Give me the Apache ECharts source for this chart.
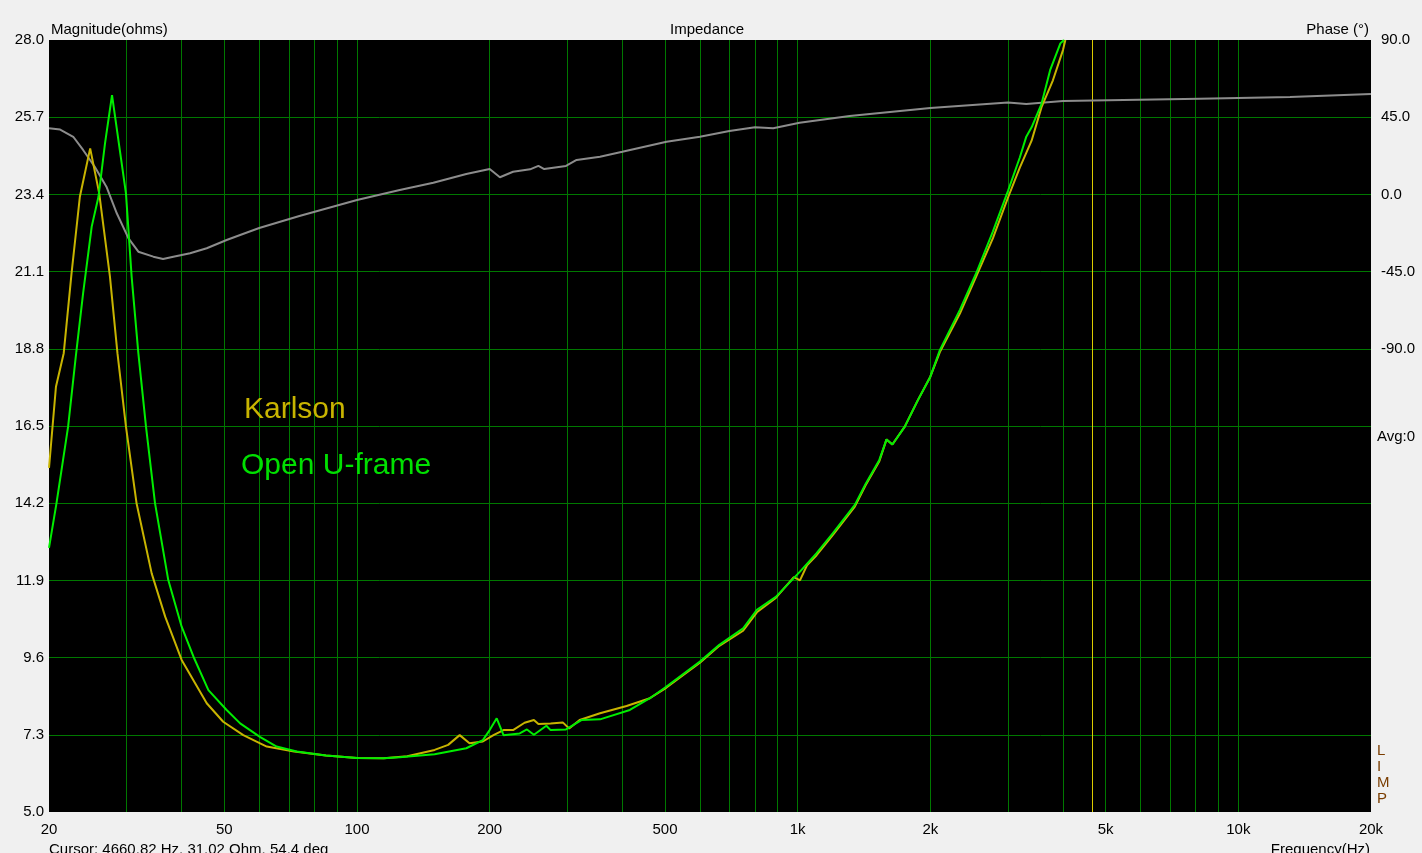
<!DOCTYPE html>
<html>
<head>
<meta charset="utf-8">
<script src="https://cdn.jsdelivr.net/npm/echarts@6/dist/echarts.min.js"></script>
<style>
html,body{margin:0;padding:0;background:#f0f0f0;}
#c{width:1422px;height:853px;}
</style>
</head>
<body>
<div id="c"></div>
<script>
// Open U-frame (green) impedance, Hz -> ohms
const freqOpen = [20,20.8,22.1,23.0,23.9,25.0,25.9,26.8,27.8,29.9,30.8,31.9,33.2,34.8,37.3,40.0,42.7,46.0,50.6,54.3,60.2,65.7,73,85,100,115,125,150,177,193,200,207.5,215,234,243,252,269,275,298,323,356,416,462,503,600,664,752,808,892,1012,1104,1201,1348,1428,1532,1591,1640,1750,1874,2000,2102,2334,2541,2774,3000,3192,3302,3395,3576,3740,3946,4020];
const ohmOpen  = [12.87,14.2,16.48,18.56,20.45,22.44,23.33,24.92,26.36,23.43,20.95,18.67,16.48,14.2,11.91,10.52,9.58,8.63,8.04,7.64,7.24,6.95,6.80,6.68,6.61,6.60,6.63,6.72,6.90,7.14,7.44,7.79,7.29,7.34,7.46,7.30,7.57,7.44,7.46,7.74,7.76,8.04,8.39,8.73,9.48,9.98,10.47,11.02,11.41,12.16,12.71,13.30,14.15,14.79,15.49,16.10,15.95,16.48,17.27,17.97,18.76,19.96,21.05,22.3,23.5,24.5,25.12,25.4,26.1,27.1,27.9,28.0];
// Karlson (yellow) impedance, Hz -> ohms
const freqKarlson = [20,20.74,21.6,22.5,23.5,24.8,26.0,27.5,28.6,29.9,31.6,34.2,36.7,40.0,45.6,49.7,55.2,62.4,72,85,100,115,130,150,161,171,180,193,204,215,226,240,252,258,275,293,303,320,356,409,462,503,600,664,752,808,892,980,1012,1050,1104,1201,1348,1428,1532,1591,1640,1750,1874,2000,2102,2334,2541,2774,3000,3192,3395,3576,3795,4000,4050];
const ohmKarlson  = [15.25,17.67,18.67,21.05,23.33,24.77,23.43,20.95,18.67,16.48,14.2,12.11,10.82,9.53,8.24,7.69,7.29,6.95,6.80,6.68,6.61,6.60,6.66,6.85,7.0,7.29,7.05,7.10,7.29,7.44,7.44,7.66,7.74,7.62,7.64,7.67,7.49,7.74,7.94,8.16,8.39,8.70,9.45,9.95,10.40,10.95,11.38,12.0,11.9,12.35,12.65,13.25,14.10,14.75,15.45,16.10,15.95,16.48,17.27,17.97,18.70,19.85,20.95,22.1,23.3,24.2,25.0,26.0,26.8,27.7,28.0];
// Phase (grey), Hz -> degrees
const freqPhase = [20,21.2,22.7,23.9,25.4,27.0,28.5,30.3,31.9,34.5,36.3,38.3,41.8,45.6,50.6,54.3,60,74,100,125,149,177,200,211,226,247,258,266,298,315,356,400,504,600,700,800,880,1010,1312,2000,3000,3302,4000,8160,13100,20000];
const phaseDeg  = [38.5,37.8,33.6,25.9,16.1,4.5,-11,-25.6,-33.4,-36.3,-37.7,-36.3,-34.3,-31.4,-26.6,-23.7,-19.6,-12.6,-3.3,2.6,6.8,11.9,14.8,10.0,13.2,14.6,16.6,14.8,16.6,20.1,22.0,24.9,30.7,33.6,37.0,39.1,38.5,41.8,45.7,50.4,53.5,52.7,54.4,55.8,56.8,58.5];
// axis ticks
const xTickFreqs  = [20,50,100,200,500,1000,2000,5000,10000,20000];
const xTickLabels = ['20','50','100','200','500','1k','2k','5k','10k','20k'];
const xGridFreqs  = [30,40,50,60,70,80,90,100,200,300,400,500,600,700,800,900,1000,2000,3000,4000,5000,6000,7000,8000,9000,10000];
const cursorFreq = 4660.82;
const cursorText = 'Cursor: 4660.82 Hz, 31.02 Ohm, 54.4 deg';

const FONT = '"Liberation Sans", Arial, sans-serif';
const pair = (xs, ys) => xs.map((x, i) => [x, ys[i]]);

const chart = echarts.init(document.getElementById('c'), null, {renderer: 'canvas'});
const txt = (text, pos, style) => Object.assign({text, padding: 0, textStyle: Object.assign({fontSize: 15, fontWeight: 'normal', color: '#000', fontFamily: FONT}, style || {})}, pos);

chart.setOption({
  animation: false,
  backgroundColor: '#f0f0f0',
  title: [
    txt('Magnitude(ohms)', {left: 51, top: 22}),
    txt('Impedance', {left: 670, top: 22}),
    txt('Phase (°)', {right: 53, top: 22}),
    txt('Avg:0', {left: 1377, top: 429}),
    txt('L\nI\nM\nP', {left: 1377, top: 743}, {color: '#7a3d00', lineHeight: 16}),
    txt(cursorText, {left: 49, top: 842}),
    txt('Frequency(Hz)', {right: 52, top: 842}),
    txt('Karlson', {left: 244, top: 395}, {fontSize: 30, color: '#c8b400'}),
    txt('Open U-frame', {left: 241, top: 451}, {fontSize: 30, color: '#00e000'})
  ],
  grid: {left: 49, right: 51, top: 40, bottom: 41, show: true, backgroundColor: '#000', borderWidth: 0, containLabel: false},
  xAxis: {
    type: 'log', logBase: 10, min: 20, max: 20000,
    axisLine: {show: false}, axisTick: {show: false}, axisLabel: {show: false},
    splitLine: {show: false}, minorSplitLine: {show: false}
  },
  yAxis: [
    {
      type: 'value', min: 5, max: 28, interval: 2.3, position: 'left',
      axisLine: {show: false}, axisTick: {show: false},
      axisLabel: {color: '#000', fontSize: 15, fontFamily: FONT, margin: 5, padding: [6, 0, 0, 0], formatter: v => v.toFixed(1)},
      splitLine: {show: true, showMinLine: false, showMaxLine: false, lineStyle: {color: '#007800', width: 1}}
    },
    {
      type: 'value', min: -360, max: 90, interval: 45, position: 'right',
      axisLine: {show: false}, axisTick: {show: false},
      axisLabel: {color: '#000', fontSize: 15, fontFamily: FONT, margin: 10, padding: [6, 0, 0, 0],
        formatter: v => (v >= -90 ? v.toFixed(1) : '')},
      splitLine: {show: false}
    }
  ],
  series: [
    {
      name: 'Phase', type: 'line', yAxisIndex: 1, z: 2, symbol: 'none',
      lineStyle: {color: '#8c8c8c', width: 2}, data: pair(freqPhase, phaseDeg),
      markLine: {
        silent: true, symbol: 'none', z: 1, animation: false,
        lineStyle: {color: '#007800', width: 1, type: 'solid'}, label: {show: false},
        emphasis: {disabled: true},
        data: xGridFreqs.map(f => ({xAxis: f}))
      }
    },
    {
      name: 'Karlson', type: 'line', yAxisIndex: 0, z: 3, symbol: 'none',
      lineStyle: {color: '#c8b400', width: 2}, data: pair(freqKarlson, ohmKarlson),
      markLine: {
        silent: true, symbol: 'none', z: 2, animation: false,
        lineStyle: {color: '#dccb00', width: 1, type: 'solid'}, label: {show: false},
        emphasis: {disabled: true},
        data: [{xAxis: cursorFreq}]
      }
    },
    {
      name: 'Open U-frame', type: 'line', yAxisIndex: 0, z: 4, symbol: 'none',
      lineStyle: {color: '#00ee00', width: 2}, data: pair(freqOpen, ohmOpen),
      markLine: {
        silent: true, symbol: 'none', z: 1, animation: false,
        lineStyle: {color: 'rgba(0,0,0,0)', width: 1, type: 'solid'},
        emphasis: {disabled: true},
        label: {show: true, position: 'start', distance: 10, color: '#000', fontSize: 15, fontFamily: FONT,
          formatter: p => p.name},
        data: xTickFreqs.map((f, i) => ({xAxis: f, name: xTickLabels[i]}))
      }
    }
  ]
});
</script>
</body>
</html>
